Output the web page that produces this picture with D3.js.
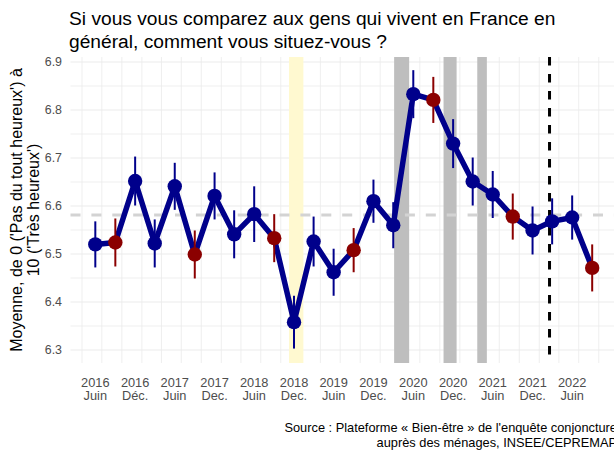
<!DOCTYPE html>
<html>
<head>
<meta charset="utf-8">
<script src="https://cdn.jsdelivr.net/npm/d3@7"></script>
<style>
  body { margin: 0; background: #fff; }
  svg { display: block; font-family: 'Liberation Sans', Arial, sans-serif; }
</style>
</head>
<body>
<svg></svg>
<script>
const width = 614
const height = 450

// quarterly survey waves
const months = [
  '2016-06', '2016-09', '2016-12', '2017-03', '2017-06', '2017-09', '2017-12',
  '2018-03', '2018-06', '2018-09', '2018-12', '2019-03', '2019-06', '2019-09',
  '2019-12', '2020-03', '2020-06', '2020-09', '2020-12', '2021-03', '2021-06',
  '2021-09', '2021-12', '2022-03', '2022-06', '2022-09',
]
const means = [
  6.520, 6.524, 6.652, 6.522, 6.641, 6.499, 6.621, 6.541, 6.583, 6.533, 6.358,
  6.526, 6.462, 6.508, 6.610, 6.560, 6.833, 6.821, 6.730, 6.651, 6.624, 6.578,
  6.549, 6.568, 6.576, 6.471,
]
const halfCI = [
  0.048, 0.050, 0.051, 0.050, 0.049, 0.050, 0.049, 0.050, 0.058, 0.050, 0.055,
  0.052, 0.049, 0.046, 0.045, 0.048, 0.050, 0.048, 0.051, 0.050, 0.049, 0.048,
  0.050, 0.048, 0.046, 0.049,
]
// waves shown in red
const highlighted = [
  0, 1, 0, 0, 0, 1, 0, 0, 0, 1, 0, 0, 0, 1, 0, 0, 0, 1, 0, 0, 0, 1, 0, 0, 0, 1,
]

const overallMean = 6.581
const yellowBands = [['2018-11-08', '2019-01-13']]
const greyBands = [
  ['2020-03-05', '2020-05-13'],
  ['2020-10-18', '2020-12-17'],
  ['2021-03-22', '2021-05-05'],
]
const eventDate = '2022-02-17'

const yTicks = [6.3, 6.4, 6.5, 6.6, 6.7, 6.8, 6.9]
const xTickMonths = [
  '2016-06', '2016-12', '2017-06', '2017-12', '2018-06', '2018-12', '2019-06',
  '2019-12', '2020-06', '2020-12', '2021-06', '2021-12', '2022-06',
]
const xTickYears = [
  '2016', '2016', '2017', '2017', '2018', '2018', '2019', '2019', '2020', '2020',
  '2021', '2021', '2022',
]
const xTickNames = [
  'Juin', 'Déc.', 'Juin', 'Dec.', 'Juin', 'Dec.', 'Juin', 'Dec.', 'Juin', 'Dec.',
  'Juin', 'Dec.', 'Juin',
]

const parseMonth = d3.utcParse('%Y-%m')
const parseDay = d3.utcParse('%Y-%m-%d')

const data = months.map((m, i) => ({
  date: parseMonth(m),
  mean: means[i],
  lo: means[i] - halfCI[i],
  hi: means[i] + halfCI[i],
  red: highlighted[i] === 1,
}))

const svg = d3.select('svg').attr('width', width).attr('height', height)

const first = data[0].date
const last = data[data.length - 1].date
const x = d3
  .scaleUtc()
  .domain([d3.utcDay.offset(first, -114), d3.utcDay.offset(last, 114)])
  .range([70.5, 617])
const y = d3.scaleLinear().domain([6.3, 6.9]).range([350, 62])
const panelTop = 57
const panelBottom = 363
const [panelLeft, panelRight] = x.range()

const panel = svg.append('g')

// grid: major + minor lines
const yGrid = d3.range(6.3, 6.91, 0.05)
panel
  .selectAll('.ygrid')
  .data(yGrid)
  .join('line')
  .attr('x1', panelLeft)
  .attr('x2', panelRight)
  .attr('y1', (d) => y(d))
  .attr('y2', (d) => y(d))
  .attr('stroke', '#ebebeb')
  .attr('stroke-width', (d, i) => (i % 2 === 0 ? 1.2 : 0.8))

const xGrid = d3.utcMonth.every(3).range(d3.utcMonth.offset(first, -3), x.domain()[1])
panel
  .selectAll('.xgrid')
  .data(xGrid.filter((d) => x(d) >= panelLeft))
  .join('line')
  .attr('x1', (d) => x(d))
  .attr('x2', (d) => x(d))
  .attr('y1', panelTop)
  .attr('y2', panelBottom)
  .attr('stroke', '#ebebeb')
  .attr('stroke-width', (d) => (d.getUTCMonth() % 6 === 5 ? 1.2 : 0.8))

// shaded periods
const band = (list, colour) =>
  panel
    .append('g')
    .selectAll('rect')
    .data(list)
    .join('rect')
    .attr('x', (d) => x(parseDay(d[0])))
    .attr('width', (d) => x(parseDay(d[1])) - x(parseDay(d[0])))
    .attr('y', panelTop)
    .attr('height', panelBottom - panelTop)
    .attr('fill', colour)
band(yellowBands, '#fff9d0')
band(greyBands, '#bebebe')

panel
  .append('line')
  .attr('x1', panelLeft)
  .attr('x2', panelRight)
  .attr('y1', y(overallMean))
  .attr('y2', y(overallMean))
  .attr('stroke', '#d3d3d3')
  .attr('stroke-width', 3)
  .attr('stroke-dasharray', '10,10.9')

panel
  .append('line')
  .attr('x1', x(parseDay(eventDate)))
  .attr('x2', x(parseDay(eventDate)))
  .attr('y1', panelTop)
  .attr('y2', panelBottom)
  .attr('stroke', '#000')
  .attr('stroke-width', 3)
  .attr('stroke-dasharray', '8.5,8.5')

// series
const line = d3
  .line()
  .x((d) => x(d.date))
  .y((d) => y(d.mean))
panel
  .append('path')
  .datum(data)
  .attr('d', line)
  .attr('fill', 'none')
  .attr('stroke', '#00008b')
  .attr('stroke-width', 5.5)
  .attr('stroke-linejoin', 'round')

panel
  .selectAll('.err')
  .data(data)
  .join('line')
  .attr('x1', (d) => x(d.date))
  .attr('x2', (d) => x(d.date))
  .attr('y1', (d) => y(d.lo))
  .attr('y2', (d) => y(d.hi))
  .attr('stroke', (d) => (d.red ? '#8b0000' : '#00008b'))
  .attr('stroke-width', 2)

panel
  .selectAll('.pt')
  .data(data)
  .join('circle')
  .attr('cx', (d) => x(d.date))
  .attr('cy', (d) => y(d.mean))
  .attr('r', 7.2)
  .attr('fill', (d) => (d.red ? '#8b0000' : '#00008b'))

// axes labels
svg
  .append('g')
  .selectAll('text')
  .data(yTicks)
  .join('text')
  .attr('x', 62)
  .attr('y', (d) => y(d))
  .attr('dy', '0.35em')
  .attr('text-anchor', 'end')
  .attr('font-size', 12.4)
  .attr('fill', '#4d4d4d')
  .text((d) => d.toFixed(1))

const tickRow = (labels, baseline) =>
  svg
    .append('g')
    .selectAll('text')
    .data(xTickMonths)
    .join('text')
    .attr('x', (d) => x(parseMonth(d)))
    .attr('y', baseline)
    .attr('text-anchor', 'middle')
    .attr('font-size', 12.8)
    .attr('fill', '#4d4d4d')
    .text((d, i) => labels[i])
tickRow(xTickYears, 386.5)
tickRow(xTickNames, 400)

const midY = (panelTop + panelBottom) / 2
const yTitle = svg
  .append('text')
  .attr('transform', `translate(0,${midY}) rotate(-90)`)
  .attr('text-anchor', 'middle')
  .attr('font-size', 16)
  .attr('fill', '#000')
yTitle.append('tspan').attr('x', 0).attr('y', 22).text("Moyenne, de 0 ('Pas du tout heureux') à")
yTitle.append('tspan').attr('x', 0).attr('y', 39).text("10 ('Très heureux')")

const title = svg.append('text').attr('font-size', 19.2).attr('fill', '#000')
title.append('tspan').attr('x', 69).attr('y', 24.5).text('Si vous vous comparez aux gens qui vivent en France en')
title.append('tspan').attr('x', 69).attr('y', 47.5).text('général, comment vous situez-vous ?')

const caption = svg
  .append('text')
  .attr('text-anchor', 'end')
  .attr('font-size', 12.8)
  .attr('fill', '#000')
caption.append('tspan').attr('x', panelRight).attr('y', 432).text("Source : Plateforme « Bien-être » de l'enquête conjoncture")
caption.append('tspan').attr('x', panelRight).attr('y', 446.5).text('auprès des ménages, INSEE/CEPREMAP')
</script>
</body>
</html>
